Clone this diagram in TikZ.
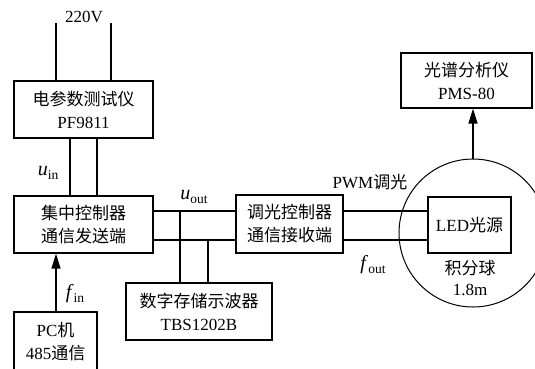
\documentclass[tikz,border=0pt]{standalone}
\usepackage{fontspec}
\setmainfont{Liberation Serif}
\newfontfamily\cjk{Noto Sans CJK SC}
\usetikzlibrary{arrows.meta}
\newcommand\varsub[2]{{\fontsize{20}{20}\selectfont\textit{#1}}\raisebox{-0.45ex}{\fontsize{13.5}{13.5}\selectfont #2}}
\begin{document}
\begin{tikzpicture}[x=1pt,y=-1pt,
  box/.style={draw,line width=1.2pt,inner sep=0pt,align=center,font=\fontsize{17}{23}\selectfont},
  wire/.style={line width=1.5pt},
  lbl/.style={font=\fontsize{17}{21}\selectfont,inner sep=0pt},
  arr/.style={line width=1.3pt,-{Triangle[length=15pt,width=9pt]}}]
\clip (0,0) rectangle (535,368);
% boxes
\node[box,minimum width=139pt,minimum height=57pt] (pf) at (83.5,109.5) {{\cjk 电参数测试仪}\\PF9811};
\node[box,minimum width=139pt,minimum height=57pt] (ctl) at (83.5,224.5) {{\cjk 集中控制器}\\{\cjk 通信发送端}};
\node[box,minimum width=107pt,minimum height=58pt] (lc) at (289.5,224) {{\cjk 调光控制器}\\{\cjk 通信接收端}};
\node[box,minimum width=146pt,minimum height=57pt] (scope) at (199,311.5) {{\cjk 数字存储示波器}\\TBS1202B};
\node[box,minimum width=83pt,minimum height=60pt] (pc) at (55.5,342) {PC{\cjk 机}\\485{\cjk 通信}};
\node[draw,circle,line width=1pt,minimum size=148pt,inner sep=0pt] (sphere) at (473,233) {};
\node[box,minimum width=83pt,minimum height=56pt] (led) at (469.5,225) {LED{\cjk 光源}};
\node[box,minimum width=131pt,minimum height=55pt] (spec) at (466.5,80.5) {{\cjk 光谱分析仪}\\PMS-80};
% helper coordinates
\coordinate (top1) at (56,23);
\coordinate (top2) at (111,23);
\coordinate (x70) at (70,0);
\coordinate (x97) at (97,0);
\coordinate (x56) at (56,0);
\coordinate (x180) at (180,0);
\coordinate (x208) at (208,0);
\coordinate (yA) at (0,211);
\coordinate (yB) at (0,240);
% wires
\draw[wire] (top1) -- (pf.north -| top1);
\draw[wire] (top2) -- (pf.north -| top2);
\draw[wire] (pf.south -| x70) -- (ctl.north -| x70);
\draw[wire] (pf.south -| x97) -- (ctl.north -| x97);
\draw[wire] (ctl.east |- yA) -- (lc.west |- yA);
\draw[wire] (ctl.east |- yB) -- (lc.west |- yB);
\draw[wire] (lc.east |- yA) -- (led.west |- yA);
\draw[wire] (lc.east |- yB) -- (led.west |- yB);
\draw[wire] (x180 |- yA) -- (scope.north -| x180);
\draw[wire] (x208 |- yB) -- (scope.north -| x208);
\draw[arr] (pc.north -| x56) -- (ctl.south -| x56);
\draw[arr] (sphere.north) -- (spec.south -| sphere.north);
% labels
\node[lbl] (v220) at (84,17) {220V};
\node[lbl] (uin) at (48,173) {\varsub{u}{in}};
\node[lbl] (uout) at (194,197) {\varsub{u}{out}};
\node[lbl] (fin) at (75,294) {\varsub{f}{in}};
\node[lbl] (pwm) at (370,182) {PWM{\cjk 调光}};
\node[lbl] (fout) at (373,265) {\varsub{f}{out}};
\node[lbl] (jfq) at (470,268) {{\cjk 积分球}};
\node[lbl] (dia) at (470,290) {1.8m};
\end{tikzpicture}
\end{document}
